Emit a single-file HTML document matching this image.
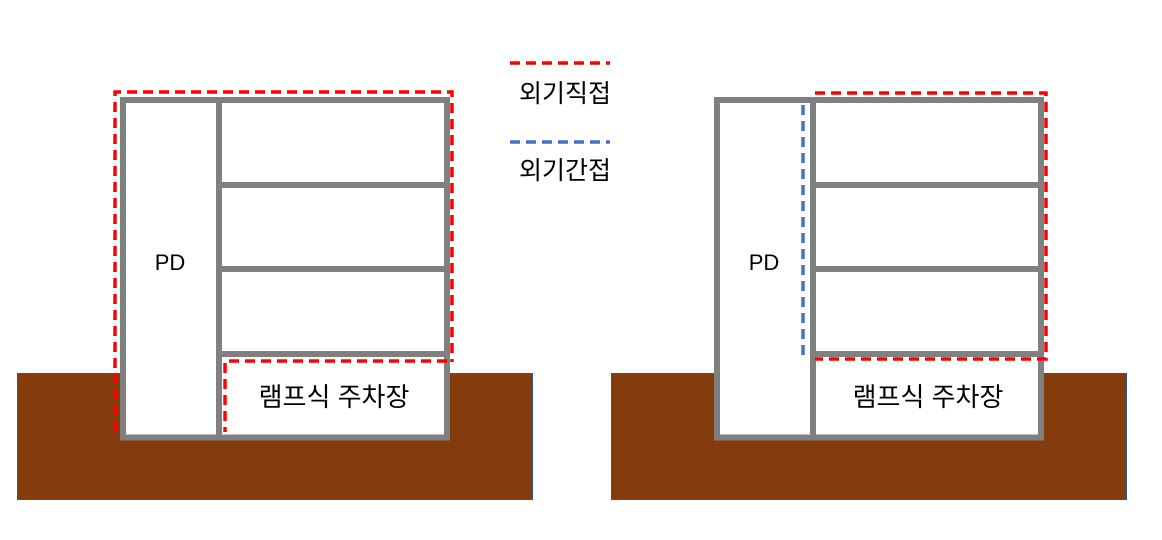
<!DOCTYPE html>
<html><head><meta charset="utf-8"><style>
html,body{margin:0;padding:0;background:#fff;}
svg{display:block;}
text{font-family:"Liberation Sans","Noto Sans CJK KR",sans-serif;fill:#000;}
</style></head><body>
<svg width="1162" height="540" viewBox="0 0 1162 540" xmlns="http://www.w3.org/2000/svg">
<!-- legend -->
<line x1="510" y1="63" x2="610" y2="63" stroke="#ff0000" stroke-width="3.5" stroke-dasharray="10,6"/>
<text x="565" y="102" font-size="25" text-anchor="middle">외기직접</text>
<line x1="510" y1="142" x2="610" y2="142" stroke="#4472c4" stroke-width="3.5" stroke-dasharray="10,6"/>
<text x="565" y="179" font-size="25" text-anchor="middle">외기간접</text>

<g id="b1">
<rect x="17.5" y="373.5" width="515" height="126" fill="#843c0c" stroke="#2f5597" stroke-width="1"/>
<rect x="123" y="100" width="324" height="337.5" fill="#fff" stroke="#808080" stroke-width="6"/>
<line x1="219" y1="100" x2="219" y2="437" stroke="#808080" stroke-width="6"/>
<line x1="219" y1="185" x2="447" y2="185" stroke="#808080" stroke-width="6"/>
<line x1="219" y1="269" x2="447" y2="269" stroke="#808080" stroke-width="6"/>
<line x1="219" y1="354" x2="447" y2="354" stroke="#808080" stroke-width="6"/>
<text x="170" y="270" font-size="22" text-anchor="middle">PD</text>
</g>
<text x="334" y="406" font-size="26" text-anchor="middle">램프식 주차장</text>
<!-- left red dashed -->
<polyline points="115,432 115,92 452,92 452,362" fill="none" stroke="#ff0000" stroke-width="3.5" stroke-dasharray="10,6"/>
<polyline points="447,361 225,361 225,432" fill="none" stroke="#ff0000" stroke-width="3.5" stroke-dasharray="10,6"/>

<use href="#b1" x="594" y="0"/>
<text x="928" y="406" font-size="26" text-anchor="middle">램프식 주차장</text>
<line x1="803" y1="105" x2="803" y2="357" stroke="#4472c4" stroke-width="3.5" stroke-dasharray="10,6"/>
<polyline points="815,93 1046,93 1046,359 815,359" fill="none" stroke="#ff0000" stroke-width="3.5" stroke-dasharray="10,6"/>
</svg>
</body></html>
